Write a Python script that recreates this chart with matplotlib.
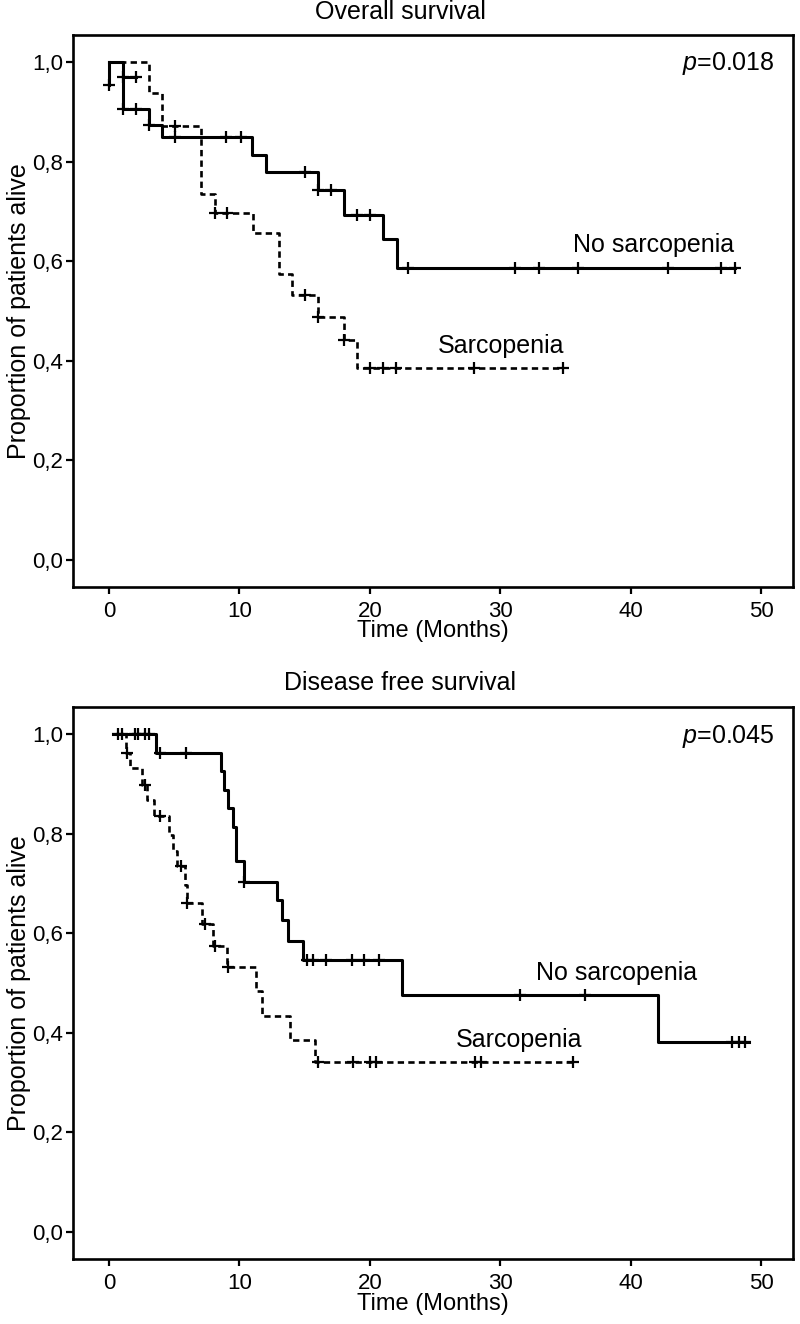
import numpy as np
import matplotlib
matplotlib.use("Agg")
import matplotlib.pyplot as plt

plt.rcParams['font.family'] = ['Liberation Sans', 'DejaVu Sans']
plt.rcParams['mathtext.fontset'] = 'custom'
plt.rcParams['mathtext.it'] = 'Liberation Sans:italic'
plt.rcParams['mathtext.rm'] = 'Liberation Sans'

# Overall survival - no sarcopenia (step times / survival after each step)
os_no_t = [0, 1.1, 3.07, 4.1, 11.0, 12.05, 16.05, 18.0, 21.0, 22.05]
os_no_s = [1.0, 0.905, 0.874, 0.849, 0.813, 0.779, 0.742, 0.693, 0.645, 0.587]
os_no_end = 48.0
os_no_cens = [1.1, 2.1, 3.07, 5.07, 9.0, 10.1, 15.05, 16.05, 17.0, 19.0, 20.0,
              22.9, 31.1, 33.0, 36.0, 42.9, 46.9, 48.0]

# Overall survival - sarcopenia
os_sa_t = [0, 3.07, 4.05, 7.05, 8.1, 11.05, 13.0, 14.05, 16.05, 18.0, 19.05]
os_sa_s = [1.0, 0.938, 0.871, 0.734, 0.697, 0.657, 0.574, 0.533, 0.487, 0.441, 0.385]
os_sa_end = 34.8
os_sa_cens = [5.07, 8.1, 9.05, 15.0, 16.05, 18.0, 20.0, 21.0, 22.0, 28.0, 34.8]

# small extra marks at the start of the OS plot
os_extra_t = [0, 0]
os_extra_s = [1.0, 0.953]
os_extra2_t = [1.1, 2.1]
os_extra2_s = [0.969, 0.969]

# Disease free survival - no sarcopenia
dfs_no_t = [0.3, 3.6, 8.6, 8.84, 9.12, 9.5, 9.73, 10.37, 12.86, 13.24, 13.75, 14.9, 22.5, 42.1]
dfs_no_s = [1.0, 0.962, 0.926, 0.888, 0.852, 0.814, 0.744, 0.703, 0.666, 0.626, 0.584,
            0.546, 0.475, 0.382]
dfs_no_end = 49.1
dfs_no_cens = [0.72, 0.97, 1.99, 2.25, 2.76, 3.07, 3.9, 5.9, 10.37, 15.16, 15.67, 16.64,
               18.6, 19.58, 20.7, 31.5, 36.5, 47.8, 48.3, 48.8]

# Disease free survival - sarcopenia
dfs_sa_t = [0.3, 1.3, 1.6, 2.5, 2.95, 3.45, 4.63, 4.94, 5.2, 5.83, 6.0, 7.1, 8.0, 9.02,
            11.27, 11.7, 13.9, 15.8]
dfs_sa_s = [1.0, 0.962, 0.932, 0.898, 0.868, 0.835, 0.798, 0.765, 0.734, 0.696, 0.66,
            0.619, 0.575, 0.532, 0.483, 0.434, 0.385, 0.341]
dfs_sa_end = 35.7
dfs_sa_cens = [1.4, 2.76, 3.9, 5.5, 6.0, 7.36, 8.13, 9.1, 16.0, 18.7, 20.0, 20.5,
               28.1, 28.5, 35.6]

x_ticks = [0, 10, 20, 30, 40, 50]
y_ticks = [0.0, 0.2, 0.4, 0.6, 0.8, 1.0]

SOLID_LW = 2.2
DASH_LW = 1.9


def surv_at(t, s, x):
    i = np.searchsorted(t, x, side='right') - 1
    return np.array(s)[i]


def km(ax, t, s, t_end, cens, dashed):
    tt = list(t) + [t_end]
    ss = list(s) + [s[-1]]
    if dashed:
        ax.step(tt, ss, where='post', color='black', lw=DASH_LW, dashes=(2.4, 1.6))
    else:
        ax.step(tt, ss, where='post', color='black', lw=SOLID_LW)
    ax.plot(cens, surv_at(t, s, cens), '+', color='black', ms=9, mew=1.6, ls='none')


def style(ax):
    ax.set_xlim(-2.76, 52.45)
    ax.set_ylim(-0.054, 1.054)
    ax.set_xticks(x_ticks)
    ax.set_yticks(y_ticks)
    ax.set_yticklabels([f"{v:.1f}".replace('.', ',') for v in y_ticks])
    ax.tick_params(direction='out', length=5, width=1.6, labelsize=16, pad=2)
    ax.tick_params(axis='x', pad=5)
    for sp in ax.spines.values():
        sp.set_linewidth(1.9)
    ax.set_xlabel("Time (Months)", fontsize=17, labelpad=-1)
    ax.set_ylabel("Proportion of patients alive", fontsize=18, labelpad=1)


fig = plt.figure(figsize=(8, 13.24), dpi=100)
ax1 = fig.add_axes([0.09125, 0.55665, 0.9, 0.41692])
ax2 = fig.add_axes([0.09125, 0.04909, 0.9, 0.41692])

km(ax1, os_sa_t, os_sa_s, os_sa_end, os_sa_cens, True)
km(ax1, os_no_t, os_no_s, os_no_end, os_no_cens, False)
ax1.plot(os_extra_t, os_extra_s, color='black', lw=SOLID_LW)
ax1.plot(os_extra_t[-1:], os_extra_s[-1:], '+', color='black', ms=9, mew=1.6)
ax1.plot(os_extra2_t, os_extra2_s, '-+', color='black', lw=SOLID_LW, ms=9, mew=1.6)
style(ax1)
ax1.text(47.9, 0.633, "No sarcopenia", fontsize=18, ha='right', va='center')
ax1.text(34.9, 0.429, "Sarcopenia", fontsize=18, ha='right', va='center')
ax1.text(0.975, 0.948, "$p$=0.018", transform=ax1.transAxes, fontsize=18,
         ha='right', va='center')

km(ax2, dfs_sa_t, dfs_sa_s, dfs_sa_end, dfs_sa_cens, True)
km(ax2, dfs_no_t, dfs_no_s, dfs_no_end, dfs_no_cens, False)
style(ax2)
ax2.text(45.1, 0.52, "No sarcopenia", fontsize=18, ha='right', va='center')
ax2.text(36.3, 0.386, "Sarcopenia", fontsize=18, ha='right', va='center')
ax2.text(0.975, 0.946, "$p$=0.045", transform=ax2.transAxes, fontsize=18,
         ha='right', va='center')

fig.text(0.5, 0.991, "Overall survival", fontsize=18, ha='center', va='center')
fig.text(0.5, 0.484, "Disease free survival", fontsize=18, ha='center', va='center')

fig.savefig("out.png", dpi=100)
